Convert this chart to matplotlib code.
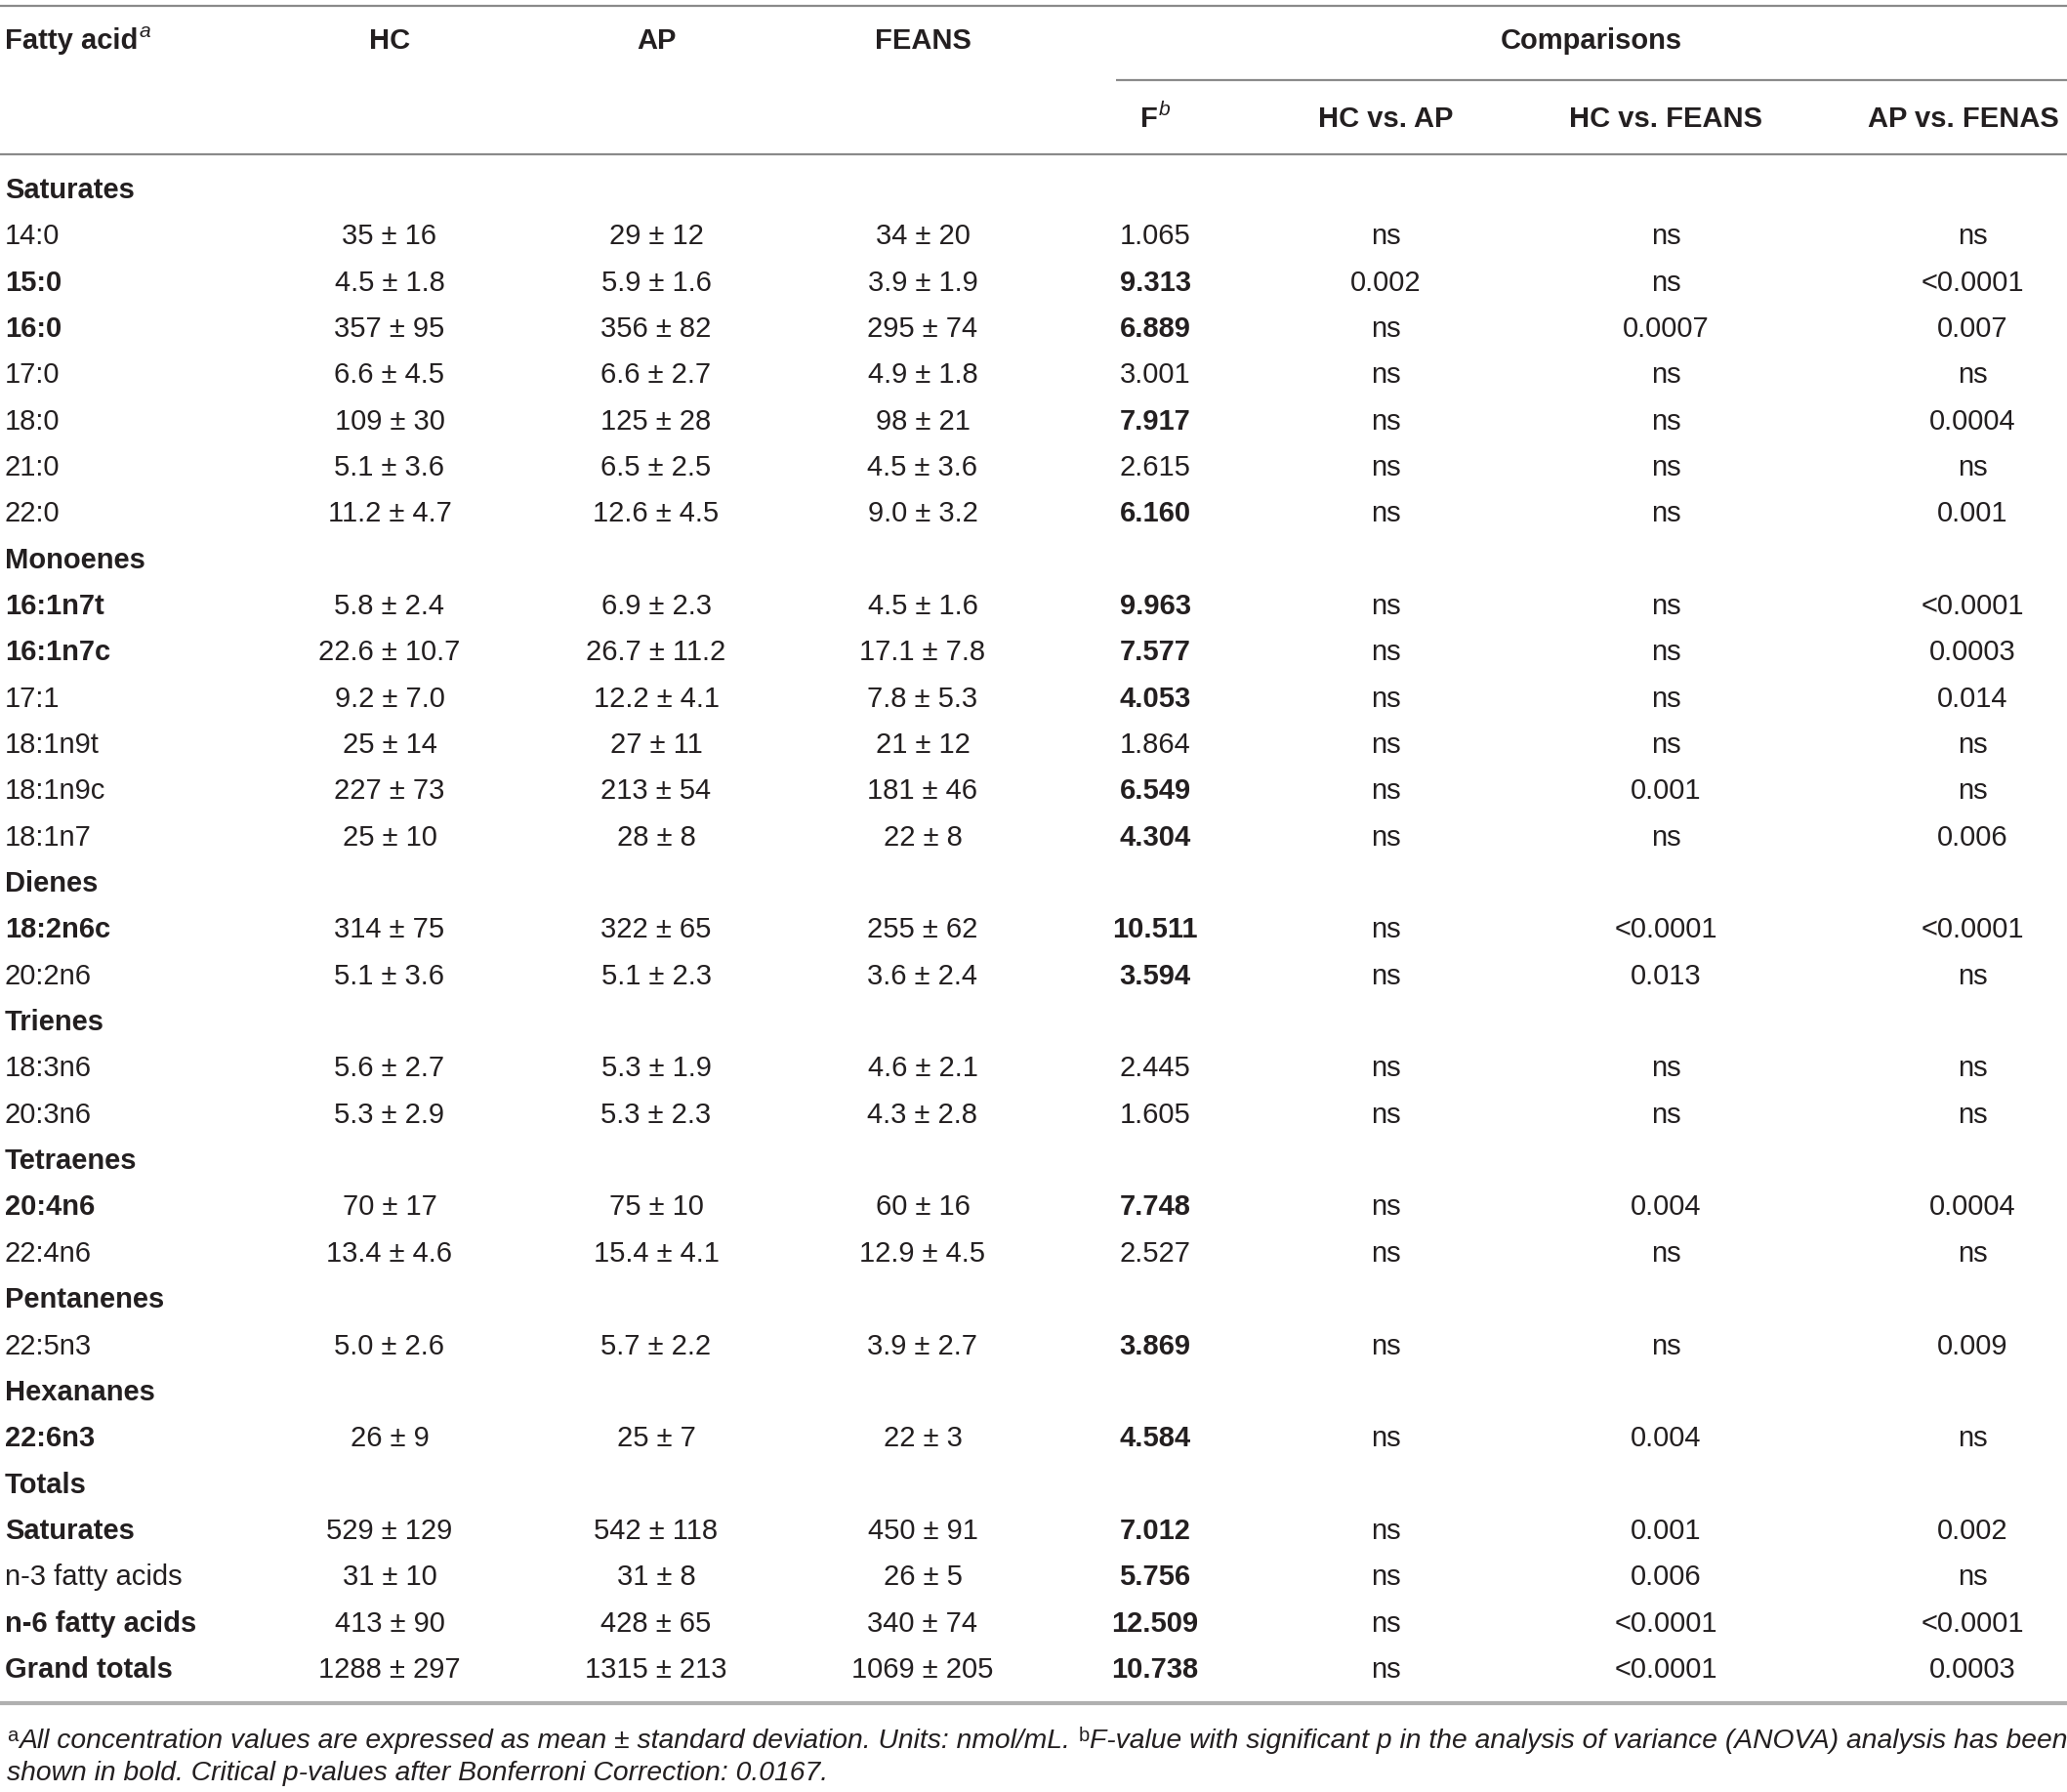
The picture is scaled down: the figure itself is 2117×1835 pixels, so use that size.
import matplotlib
matplotlib.use("Agg")
import matplotlib.pyplot as plt

plt.rcParams['font.family'] = ['Liberation Sans', 'DejaVu Sans']

# ---------------- data ----------------
labels = ["Saturates", "14:0", "15:0", "16:0", "17:0", "18:0", "21:0", "22:0",
          "Monoenes", "16:1n7t", "16:1n7c", "17:1", "18:1n9t", "18:1n9c", "18:1n7",
          "Dienes", "18:2n6c", "20:2n6", "Trienes", "18:3n6", "20:3n6",
          "Tetraenes", "20:4n6", "22:4n6", "Pentanenes", "22:5n3",
          "Hexananes", "22:6n3", "Totals", "Saturates", "n-3 fatty acids",
          "n-6 fatty acids", "Grand totals"]

hc = ["", "35 ± 16", "4.5 ± 1.8", "357 ± 95", "6.6 ± 4.5", "109 ± 30", "5.1 ± 3.6", "11.2 ± 4.7",
      "", "5.8 ± 2.4", "22.6 ± 10.7", "9.2 ± 7.0", "25 ± 14", "227 ± 73", "25 ± 10",
      "", "314 ± 75", "5.1 ± 3.6", "", "5.6 ± 2.7", "5.3 ± 2.9",
      "", "70 ± 17", "13.4 ± 4.6", "", "5.0 ± 2.6", "", "26 ± 9",
      "", "529 ± 129", "31 ± 10", "413 ± 90", "1288 ± 297"]

ap = ["", "29 ± 12", "5.9 ± 1.6", "356 ± 82", "6.6 ± 2.7", "125 ± 28", "6.5 ± 2.5", "12.6 ± 4.5",
      "", "6.9 ± 2.3", "26.7 ± 11.2", "12.2 ± 4.1", "27 ± 11", "213 ± 54", "28 ± 8",
      "", "322 ± 65", "5.1 ± 2.3", "", "5.3 ± 1.9", "5.3 ± 2.3",
      "", "75 ± 10", "15.4 ± 4.1", "", "5.7 ± 2.2", "", "25 ± 7",
      "", "542 ± 118", "31 ± 8", "428 ± 65", "1315 ± 213"]

feans = ["", "34 ± 20", "3.9 ± 1.9", "295 ± 74", "4.9 ± 1.8", "98 ± 21", "4.5 ± 3.6", "9.0 ± 3.2",
         "", "4.5 ± 1.6", "17.1 ± 7.8", "7.8 ± 5.3", "21 ± 12", "181 ± 46", "22 ± 8",
         "", "255 ± 62", "3.6 ± 2.4", "", "4.6 ± 2.1", "4.3 ± 2.8",
         "", "60 ± 16", "12.9 ± 4.5", "", "3.9 ± 2.7", "", "22 ± 3",
         "", "450 ± 91", "26 ± 5", "340 ± 74", "1069 ± 205"]

f_values = ["", "1.065", "9.313", "6.889", "3.001", "7.917", "2.615", "6.160",
            "", "9.963", "7.577", "4.053", "1.864", "6.549", "4.304",
            "", "10.511", "3.594", "", "2.445", "1.605",
            "", "7.748", "2.527", "", "3.869", "", "4.584",
            "", "7.012", "5.756", "12.509", "10.738"]

hc_vs_ap = ["", "ns", "0.002", "ns", "ns", "ns", "ns", "ns",
            "", "ns", "ns", "ns", "ns", "ns", "ns",
            "", "ns", "ns", "", "ns", "ns",
            "", "ns", "ns", "", "ns", "", "ns",
            "", "ns", "ns", "ns", "ns"]

hc_vs_feans = ["", "ns", "ns", "0.0007", "ns", "ns", "ns", "ns",
               "", "ns", "ns", "ns", "ns", "0.001", "ns",
               "", "<0.0001", "0.013", "", "ns", "ns",
               "", "0.004", "ns", "", "ns", "", "0.004",
               "", "0.001", "0.006", "<0.0001", "<0.0001"]

ap_vs_fenas = ["", "ns", "<0.0001", "0.007", "ns", "0.0004", "ns", "0.001",
               "", "<0.0001", "0.0003", "0.014", "ns", "ns", "0.006",
               "", "<0.0001", "ns", "", "ns", "ns",
               "", "0.0004", "ns", "", "0.009", "", "ns",
               "", "0.002", "ns", "<0.0001", "0.0003"]

bold_labels = {"Saturates", "Monoenes", "Dienes", "Trienes", "Tetraenes", "Pentanenes",
               "Hexananes", "Totals", "15:0", "16:0", "16:1n7t", "16:1n7c", "18:2n6c",
               "20:4n6", "22:6n3", "n-6 fatty acids", "Grand totals"}
plain_f = {"1.065", "3.001", "2.615", "1.864", "2.445", "1.605", "2.527"}

col_headers = ["HC", "AP", "FEANS"]
comp_headers = ["HC vs. AP", "HC vs. FEANS", "AP vs. FENAS"]

footnote_1a = "All concentration values are expressed as mean ± standard deviation. Units: nmol/mL."
footnote_1b = "F-value with significant p in the analysis of variance (ANOVA) analysis has been"
footnote_2 = "shown in bold. Critical p-values after Bonferroni Correction: 0.0167."

# ---------------- layout ----------------
W, H = 2117, 1835
fig = plt.figure(figsize=(W / 100, H / 100), dpi=100)
ax = fig.add_axes([0, 0, 1, 1])
ax.set_xlim(0, W)
ax.set_ylim(H, 0)
ax.axis("off")

TXT = "#231f20"
FS = 21
x_label = 5
x_cols = [399, 672, 945, 1183, 1419, 1706, 2020]
x_comp_head = [1419, 1706, 2011]
y_first = 195
dy = 47.34
renderer = fig.canvas.get_renderer()


def width_of(t):
    bb = t.get_window_extent(renderer=renderer)
    return bb.width


# rules
ax.plot([0, W], [6, 6], color="#8a8a8a", lw=1.6, solid_capstyle="butt")
ax.plot([1143, W], [82, 82], color="#8a8a8a", lw=1.6, solid_capstyle="butt")
ax.plot([0, W], [158, 158], color="#8a8a8a", lw=1.6, solid_capstyle="butt")
ax.plot([0, W], [1744, 1744], color="#b0b0b0", lw=3.0, solid_capstyle="butt")

# headers
t = ax.text(x_label, 42, "Fatty acid", fontsize=FS, fontweight="bold", color=TXT,
            ha="left", va="center")
wfa = width_of(t)
ax.text(x_label + wfa + 1, 33, "a", fontsize=FS * 0.72, fontstyle="italic", color=TXT,
        ha="left", va="center")
for xc, h in zip(x_cols[:3], col_headers):
    ax.text(xc, 42, h, fontsize=FS, fontweight="bold", color=TXT, ha="center", va="center")
ax.text(1630, 42, "Comparisons", fontsize=FS, fontweight="bold", color=TXT,
        ha="center", va="center")
tF = ax.text(x_cols[3] - 6, 122, "F", fontsize=FS, fontweight="bold", color=TXT,
             ha="center", va="center")
wF = width_of(tF)
ax.text(x_cols[3] - 6 + wF / 2 + 1, 112, "b", fontsize=FS * 0.72, fontstyle="italic",
        color=TXT, ha="left", va="center")
for xc, h in zip(x_comp_head, comp_headers):
    ax.text(xc, 122, h, fontsize=FS, fontweight="bold", color=TXT, ha="center", va="center")

# body
for i, lab in enumerate(labels):
    y = y_first + i * dy
    ax.text(x_label, y, lab, fontsize=FS, color=TXT, ha="left", va="center",
            fontweight="bold" if lab in bold_labels else "normal")
    cells = [hc[i], ap[i], feans[i], f_values[i], hc_vs_ap[i], hc_vs_feans[i], ap_vs_fenas[i]]
    for j, (xc, c) in enumerate(zip(x_cols, cells)):
        if not c:
            continue
        bold = (j == 3 and c not in plain_f)
        ax.text(xc, y, c, fontsize=FS, color=TXT, ha="center", va="center",
                fontweight="bold" if bold else "normal")

# footnotes (fit first line to the table width)
y_f1, y_f2 = 1783, 1816
fs_fn = 20.0
target = 2103
probe = ax.text(0, -100, footnote_1a + "  " + footnote_1b, fontsize=fs_fn, fontstyle="italic")
wprobe = width_of(probe)
probe.remove()
fs_fn = fs_fn * (target - 20) / wprobe

xx = 7
ta = ax.text(xx, y_f1 - 6, "a", fontsize=fs_fn * 0.72, color=TXT, ha="left", va="center")
xx += width_of(ta) + 1
t1 = ax.text(xx, y_f1, footnote_1a, fontsize=fs_fn, fontstyle="italic", color=TXT,
             ha="left", va="center")
xx += width_of(t1) + 8
tb = ax.text(xx, y_f1 - 6, "b", fontsize=fs_fn * 0.72, color=TXT, ha="left", va="center")
xx += width_of(tb) + 1
ax.text(xx, y_f1, footnote_1b, fontsize=fs_fn, fontstyle="italic", color=TXT,
        ha="left", va="center")
ax.text(7, y_f2, footnote_2, fontsize=fs_fn, fontstyle="italic", color=TXT,
        ha="left", va="center")

fig.savefig("out.png", dpi=100, facecolor="white")
